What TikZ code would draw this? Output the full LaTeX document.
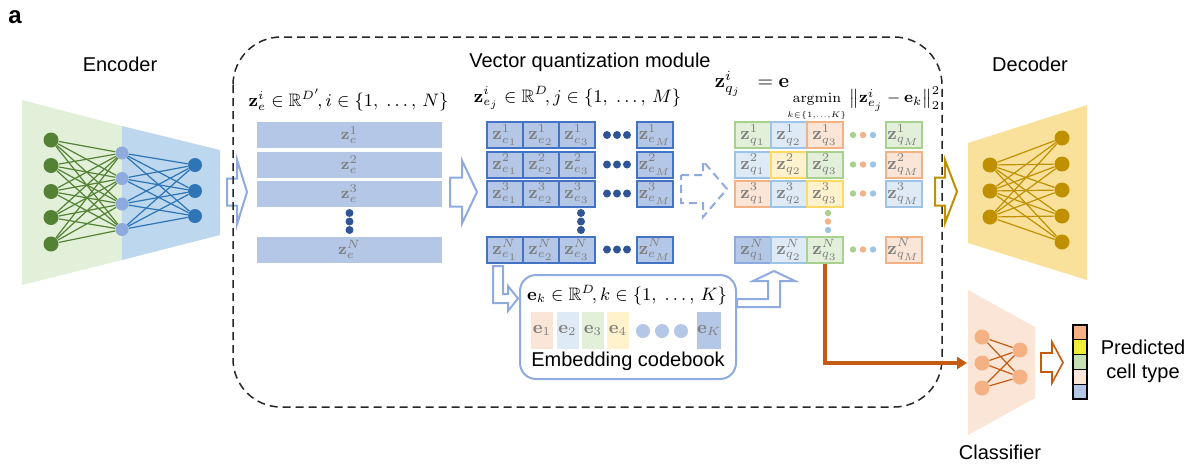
\documentclass[tikz,border=0pt]{standalone}
\usepackage{amsmath}
\usepackage{amssymb}
\usepackage[no-math]{fontspec}
\setmainfont{Liberation Sans}
\usepackage{tikz}
\usetikzlibrary{positioning, calc, arrows.meta}
\definecolor{encgreenbg}{HTML}{E2F0D9}
\definecolor{encgreen}{HTML}{548235}
\definecolor{encbluebg}{HTML}{BDD7EE}
\definecolor{encmid}{HTML}{8FAADC}
\definecolor{encblue}{HTML}{2E75B6}
\definecolor{zfill}{HTML}{B4C7E7}
\definecolor{zline}{HTML}{4472C4}
\definecolor{zdots}{HTML}{2F5597}
\definecolor{arrowblue}{HTML}{8FAADC}
\definecolor{celltext}{HTML}{7F7F7F}
\definecolor{decbg}{HTML}{FAE19B}
\definecolor{decgold}{HTML}{BF9000}
\definecolor{clsbg}{HTML}{FBE5D6}
\definecolor{clsnode}{HTML}{F4B183}
\definecolor{clsline}{HTML}{C55A11}
\definecolor{greenfill}{HTML}{E2F0D9}
\definecolor{greenline}{HTML}{A9D18E}
\definecolor{bluefill}{HTML}{DEEBF7}
\definecolor{blueline}{HTML}{9DC3E6}
\definecolor{orangefill}{HTML}{FBE5D6}
\definecolor{orangeline}{HTML}{F4B183}
\definecolor{yellowfill}{HTML}{FFF2CC}
\definecolor{yellowline}{HTML}{FFD966}
\definecolor{darkfill}{HTML}{B4C7E7}
\definecolor{darkline}{HTML}{8FAADC}
\definecolor{predyellow}{HTML}{EDED3A}
\definecolor{predgreen}{HTML}{C5E0B4}
\tikzstyle{title} = [font=\normalsize, text=black, inner sep=0pt]
\tikzstyle{mathlabel} = [font=\small, inner sep=0pt]
\tikzstyle{zrow} = [rectangle, fill=zfill, minimum width=92.5pt, minimum height=13pt, inner sep=0pt, font=\footnotesize, text=celltext]
\tikzstyle{ecell} = [rectangle, draw=zline, line width=1pt, fill=zfill, minimum width=18pt, minimum height=13pt, inner sep=0pt, font=\small, text=celltext]
\tikzset{qcell/.style={rectangle, draw=#1line, fill=#1fill, line width=1pt, minimum width=18pt, minimum height=13pt, inner sep=0pt, font=\small, text=celltext}}
\tikzset{codecell/.style={rectangle, fill=#1, minimum width=11pt, minimum height=18.5pt, inner sep=0pt, font=\small, text=celltext}}
\tikzstyle{dotnode} = [circle, inner sep=0pt, minimum size=4pt]
\tikzstyle{netnode} = [circle, inner sep=0pt, minimum size=7.5pt]
\tikzstyle{predcell} = [rectangle, draw=black, line width=0.6pt, minimum width=7pt, minimum height=7.4pt, inner sep=0pt]
\tikzstyle{hollowarrw} = [line width=1pt, draw=arrowblue, line join=miter]
\tikzstyle{dashedarrw} = [line width=1pt, draw=arrowblue, dash pattern=on 4pt off 2.5pt]
\tikzstyle{modulebox} = [line width=0.75pt, draw=black!85, dash pattern=on 4pt off 2.5pt, rounded corners=24pt]
\tikzstyle{clsarrw} = [line width=2pt, draw=clsline, -{Triangle[length=5pt, width=6pt]}]

% straight hollow block arrow: style, shaft start, head base, tip, centre y, half shaft, half head
\newcommand{\blockarrw}[7]{%
  \draw[#1] (#2,#5-#6) -- (#3,#5-#6) -- (#3,#5-#7) -- (#4,#5) -- (#3,#5+#7) -- (#3,#5+#6) -- (#2,#5+#6) -- cycle;}

\begin{document}
\begin{tikzpicture}[x=0.5pt, y=-0.5pt]
    \useasboundingbox (0,0) rectangle (1195,468);
    \node[font=\bfseries\fontsize{12}{14}\selectfont, inner sep=0pt] (panel) at (15,17) {a};

    % Encoder
    \node[title] (enctitle) at (120,64) {Encoder};
    \fill[encgreenbg] (22,100) -- (122,126) -- (122,260) -- (22,285) -- cycle;
    \fill[encbluebg] (122,126) -- (220,150) -- (220,235) -- (122,260) -- cycle;
    \foreach \i/\y in {1/140, 2/165.5, 3/191.5, 4/217.5, 5/244}
        \node[netnode, fill=encgreen] (g\i) at (51,\y) {};
    \foreach \j/\y in {1/153, 2/178.5, 3/204, 4/229.5}
        \node[netnode, fill=encmid, minimum size=6.5pt] (m\j) at (122,\y) {};
    \foreach \k/\y in {1/165, 2/191, 3/216}
        \node[netnode, fill=encblue, minimum size=7pt] (o\k) at (195,\y) {};
    \foreach \i in {1,...,5}
        \foreach \j in {1,...,4}
            \draw[encgreen, line width=0.6pt] (g\i) -- (m\j);
    \foreach \j in {1,...,4}
        \foreach \k in {1,...,3}
            \draw[encblue, line width=0.6pt] (m\j) -- (o\k);

    \blockarrw{hollowarrw}{227}{237}{247}{192}{13.5}{32.5}

    % Encoder output z_e
    \node[mathlabel] (zelabel) at (348.5,100) {$\mathbf{z}^{i}_{e}\in\mathbb{R}^{D'}\!, i\in\{1,\;\ldots,\,N\}$};
    \foreach \r/\y in {1/135, 2/164.5, 3/193.5, N/249.5}
        \node[zrow] (zr\r) at (349.5,\y) {$\mathbf{z}^{\r}_{e}$};
    \foreach \k/\y in {1/213, 2/221.5, 3/230}
        \node[dotnode, fill=zdots] (zrdot\k) at (349.5,\y) {};

    \blockarrw{hollowarrw}{450}{462}{477}{192}{14.5}{31.5}

    % Split into sub-vectors z_ej
    \node[mathlabel] (zsplitlabel) at (577.5,98) {$\mathbf{z}^{i}_{e_j}\in\mathbb{R}^{D}\!, j\in\{1,\;\ldots,\,M\}$};
    \foreach \r/\y in {1/135, 2/164.5, 3/193.5, N/249.5} {
        \foreach \c/\x in {1/505, 2/541, 3/577}
            \node[ecell] (e\r\c) at (\x,\y) {$\mathbf{z}^{\r}_{e_{\c}}$};
        \node[ecell] (e\r M) at (655,\y) {$\mathbf{z}^{\r}_{e_M}$};
        \foreach \k/\x in {1/607, 2/617, 3/627}
            \node[dotnode, fill=zdots] (edot\r\k) at (\x,\y) {};
    }
    \foreach \k/\y in {1/213, 2/221.5, 3/230}
        \node[dotnode, fill=zdots] (ecol\k) at (581,\y) {};

    \draw[dashedarrw] (681,175) -- (703,175) -- (703,161) -- (727,189) -- (703,217) -- (703,203) -- (681,203) -- cycle;

    % Quantized sub-vectors z_qj
    \node[mathlabel, font=\normalsize] (qlabel) at (752,84) {$\mathbf{z}^{i}_{q_j}\ \ =\mathbf{e}$};
    \node[mathlabel, font=\normalsize, anchor=west] (argminlabel) at (787,104) {$\mathop{\scriptstyle\mathrm{argmin}}\limits_{\scalebox{0.8}{$\scriptscriptstyle k\in\{1,\ldots,K\}$}}\text{\footnotesize$\bigl\|\mathbf{z}^{i}_{e_j}-\mathbf{e}_k\bigr\|_2^2$}$};
    \foreach \r/\y/\ca/\cb/\cc/\cm in {1/135/green/blue/orange/green, 2/164.5/blue/yellow/green/orange, 3/193.5/orange/blue/yellow/blue, N/249.5/dark/blue/green/orange} {
        \node[qcell=\ca] (q\r1) at (753,\y) {$\mathbf{z}^{\r}_{q_1}$};
        \node[qcell=\cb] (q\r2) at (789,\y) {$\mathbf{z}^{\r}_{q_2}$};
        \node[qcell=\cc] (q\r3) at (825,\y) {$\mathbf{z}^{\r}_{q_3}$};
        \node[qcell=\cm] (q\r M) at (903.5,\y) {$\mathbf{z}^{\r}_{q_M}$};
        \foreach \k/\x/\c in {1/853/greenline, 2/863/orangeline, 3/873/blueline}
            \node[dotnode, fill=\c, minimum size=3.2pt] (qdot\r\k) at (\x,\y) {};
    }
    \foreach \k/\y/\c in {1/213/greenline, 2/221.5/orangeline, 3/230/blueline}
        \node[dotnode, fill=\c, minimum size=3.2pt] (qcol\k) at (828,\y) {};

    % Embedding codebook
    \node[draw=arrowblue, line width=1pt, rounded corners=8pt, minimum width=108pt, minimum height=52pt] (codebook) at (628,327) {};
    \node[mathlabel] (codelabel) at (627,295) {$\mathbf{e}_k\in\mathbb{R}^{D}\!, k\in\{1,\;\ldots,\,K\}$};
    \node[codecell=orangefill] (c1) at (542,330.5) {$\mathbf{e}_1$};
    \node[codecell=bluefill] (c2) at (567.5,330.5) {$\mathbf{e}_2$};
    \node[codecell=greenfill] (c3) at (593,330.5) {$\mathbf{e}_3$};
    \node[codecell=yellowfill] (c4) at (618,330.5) {$\mathbf{e}_4$};
    \foreach \k/\x in {1/643, 2/662, 3/681}
        \node[dotnode, fill=zfill, minimum size=7pt] (cdot\k) at (\x,331) {};
    \node[codecell=zfill] (cK) at (709,330.5) {$\mathbf{e}_K$};
    \node[title] (codetitle) at (628,361) {Embedding codebook};

    % look-up in and out of the codebook
    \draw[hollowarrw] (493,266) -- (493,303) -- (508,303) -- (508,311) -- (518,298.5) -- (508,286) -- (508,294) -- (503,294) -- (503,266) -- cycle;
    \draw[hollowarrw] (737,299) -- (768,299) -- (768,281) -- (753,281) -- (774,271) -- (795,281) -- (780,281) -- (780,307) -- (737,307) -- cycle;

    % Module frame
    \draw[modulebox] (233,37) rectangle (942,407);
    \node[title] (vqtitle) at (590,62) {Vector quantization module};

    % Decoder
    \blockarrw{hollowarrw, draw=decgold}{935}{945}{957}{191.5}{14}{31.5}
    \node[title] (dectitle) at (1030,64) {Decoder};
    \fill[decbg] (968,143) -- (1087,105) -- (1087,280) -- (968,243) -- cycle;
    \foreach \i/\y in {1/165, 2/191, 3/217}
        \node[netnode, fill=decgold] (dl\i) at (990,\y) {};
    \foreach \j/\y in {1/138, 2/164, 3/190, 4/216, 5/242}
        \node[netnode, fill=decgold] (dr\j) at (1062,\y) {};
    \foreach \i in {1,...,3}
        \foreach \j in {1,...,5}
            \draw[decgold, line width=0.6pt] (dl\i) -- (dr\j);

    % Classifier
    \fill[clsbg] (968,290) -- (1035,327) -- (1035,398) -- (968,435) -- cycle;
    \coordinate (clsin) at (967,363);
    \draw[clsarrw] (qN3.south) |- (clsin);
    \foreach \i/\y in {1/337, 2/363, 3/388}
        \node[netnode, fill=clsnode] (kl\i) at (982,\y) {};
    \foreach \j/\y in {1/350, 2/377}
        \node[netnode, fill=clsnode] (kr\j) at (1020,\y) {};
    \foreach \i in {1,...,3}
        \foreach \j in {1,2}
            \draw[clsline, line width=0.6pt] (kl\i) -- (kr\j);
    \node[title] (clstitle) at (1000,452) {Classifier};

    \blockarrw{line width=0.8pt, draw=clsline, line join=miter}{1041}{1052}{1063}{362.5}{9.5}{20.5}
    \foreach \k/\c/\y in {1/clsnode/332.4, 2/predyellow/347.2, 3/predgreen/362, 4/clsbg/376.8, 5/zfill/391.6}
        \node[predcell, fill=\c] (pred\k) at (1080,\y) {};
    \node[title, align=center] (predlabel) at (1143,361) {Predicted\\cell type};
\end{tikzpicture}
\end{document}
